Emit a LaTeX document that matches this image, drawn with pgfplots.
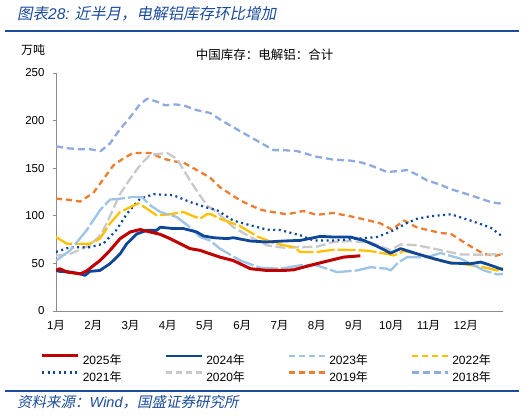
\documentclass[border=0pt]{standalone}
\usepackage{pgfplots}
\pgfplotsset{compat=1.18}
\usepackage{fontspec}
\setmainfont{Liberation Sans}
\newfontfamily\cjk{Noto Sans CJK SC}
\newfontfamily\cjkit[FakeSlant=0.2]{Noto Sans CJK SC}
\definecolor{titleblue}{HTML}{1A4B9B}
\definecolor{rulecol}{HTML}{1E4C9C}
\definecolor{axisgray}{HTML}{8C8C8C}
\definecolor{c25}{HTML}{C00000}
\definecolor{c24}{HTML}{0E4698}
\definecolor{c23}{HTML}{9DC3E6}
\definecolor{c22}{HTML}{FFC000}
\definecolor{c21}{HTML}{0E4698}
\definecolor{c20}{HTML}{C9C9C9}
\definecolor{c19}{HTML}{ED7D31}
\definecolor{c18}{HTML}{8FAADC}
\begin{document}
\begin{tikzpicture}
\useasboundingbox (0pt,0pt) rectangle (526pt,415pt);
\node[anchor=west, inner sep=0pt, text=titleblue] at (17pt,401pt) {\fontsize{15.5}{18}\selectfont{\cjkit 图表}{\itshape 28:}\hspace{5pt}{\cjkit 近半月，电解铝库存环比增加}};
\draw[rulecol, line width=2.2pt] (5pt,384pt) -- (519pt,384pt);
\draw[rulecol, line width=2pt] (5pt,24.5pt) -- (519pt,24.5pt);
\node[anchor=west, inner sep=0pt, text=titleblue] at (17pt,13pt) {\fontsize{14.5}{16}\selectfont{\cjkit 资料来源：}{\itshape Wind}{\cjkit ，国盛证券研究所}};
\node[anchor=west, inner sep=0pt] at (21pt,365pt) {\fontsize{12}{14}\selectfont\cjk 万吨};
\node[inner sep=0pt] at (264.5pt,360.5pt) {\fontsize{12.5}{14}\selectfont\cjk 中国库存：电解铝：合计};
\begin{axis}[
 at={(56pt,104pt)}, anchor=south west,
 width=447pt, height=238pt, scale only axis,
 xmin=1, xmax=13, ymin=0, ymax=250,
 axis x line*=bottom, axis y line*=left,
 axis line style={draw=axisgray, line width=0.9pt, -},
 every inner x axis line/.append style={-},
 every inner y axis line/.append style={-},
 every outer x axis line/.append style={-},
 every outer y axis line/.append style={-},
 xtick={1,...,12},
 xticklabels={1{\cjk 月},2{\cjk 月},3{\cjk 月},4{\cjk 月},5{\cjk 月},6{\cjk 月},7{\cjk 月},8{\cjk 月},9{\cjk 月},10{\cjk 月},11{\cjk 月},12{\cjk 月}},
 ytick={0,50,...,250},
 x tick style={draw=none},
 y tick style={draw=axisgray, line width=0.7pt},
 major tick length=3pt,
 tick align=outside,
 tick label style={font=\fontsize{11.5}{13}\selectfont, text=black},
 /pgf/number format/assume math mode=true,
 yticklabel style={xshift=-5pt},
 xticklabel style={yshift=-3pt},
 legend columns=4,
 reverse legend,
 legend cell align=left,
 legend image code/.code={\draw[#1, line cap=butt] (0pt,4.2pt) -- (36pt,4.2pt);},
 legend style={draw=none, fill=none, inner sep=0pt, outer sep=0pt,
   at={(-0.034,-0.2415)}, anchor=west,
   font=\fontsize{12}{14}\selectfont, row sep=5pt,
   nodes={inner sep=0pt},
   /tikz/every odd column/.append style={column sep=3pt},
   /tikz/every even column/.append style={column sep=43pt}},
]
\addplot[c18, line width=2.3pt, line join=round, dash pattern=on 7pt off 4pt] coordinates {
(1,173)(1.3,171)(1.6,170)(1.9,170)(2.2,168)(2.45,176)(2.7,190)(3.0,204)(3.25,217)(3.45,223)(3.7,220)(3.93,216)(4.2,217)(4.42,216)(4.78,211)(5.14,208)(5.45,200)(5.76,193)(6.3,181)(6.84,169)(7.1,169)(7.47,168)(8.0,162)(8.45,159)(8.9,158)(9.2,156)(9.44,153)(9.89,146)(10.2,147)(10.43,148)(10.7,143)(10.97,137)(11.3,133)(11.6,128)(12.13,121.6)(12.4,118)(12.67,114.5)(12.9,113)(13,114)};
\addlegendentry{2018{\cjk 年}}
\addplot[c19, line width=2.3pt, line join=round, dash pattern=on 6pt off 4pt] coordinates {
(1,118)(1.3,117)(1.65,115)(2.0,124)(2.3,140)(2.54,153)(2.8,160)(3.07,166)(3.3,166)(3.53,166)(3.88,160)(4.2,157)(4.42,156)(4.78,148)(5.14,140)(5.4,130)(5.95,116)(6.48,106.5)(6.8,104)(7.2,101.6)(7.64,105)(8.0,101)(8.45,103)(8.9,99.5)(9.3,96)(9.71,92)(10.02,85.5)(10.34,95)(10.7,87.6)(11.32,82)(11.6,81)(12.04,70)(12.48,60)(12.8,58)(13,60)};
\addlegendentry{2019{\cjk 年}}
\addplot[c20, line width=2.3pt, line join=round, dash pattern=on 10pt off 3.5pt, legend image post style={dash pattern=on 6pt off 4pt}] coordinates {
(1,58)(1.38,60)(1.91,69)(2.2,80)(2.36,92)(2.72,123)(3.08,144)(3.3,155)(3.53,164)(3.98,166)(4.24,160)(4.6,137)(4.87,121)(5.05,111)(5.32,104)(5.76,88)(6.22,77.7)(6.66,69)(7.11,66.5)(7.56,67)(8.0,67.6)(8.45,72.5)(8.9,73.5)(9.44,72)(9.98,64)(10.25,70)(10.7,69)(11.32,64)(11.86,59.5)(12.48,59)(13,60)};
\addlegendentry{2020{\cjk 年}}
\addplot[c21, line width=2.2pt, line join=round, dash pattern=on 2pt off 3.5pt] coordinates {
(1,62)(1.38,67)(1.91,67)(2.27,70.7)(2.62,85)(2.9,102)(3.26,118)(3.62,122.6)(4.15,121.6)(4.6,114.5)(5.05,108.6)(5.32,106)(5.76,95)(6.22,90)(6.66,85.5)(7.02,85)(7.56,79.5)(7.92,74)(8.45,74)(9.08,76)(9.62,77.7)(10.06,84.7)(10.4,92)(10.7,97)(11.05,99.5)(11.6,101.6)(12.13,95)(12.67,87.6)(13,77.7)};
\addlegendentry{2021{\cjk 年}}
\addplot[c22, line width=2.3pt, line join=round, dash pattern=on 18pt off 3pt, legend image post style={dash pattern=on 6pt off 4pt}] coordinates {
(1,77.7)(1.29,70.7)(1.91,70.7)(2.18,76)(2.45,92)(2.72,104)(2.99,109)(3.21,113)(3.44,107.6)(3.7,100.5)(4.06,101.6)(4.42,104)(4.69,99.5)(4.87,97)(5.05,101.6)(5.14,102)(5.4,97)(5.95,89)(6.4,78.4)(6.84,71.4)(7.38,67)(7.56,62)(8.0,62)(8.45,64.4)(9.08,64)(9.44,63)(9.89,60)(10.07,58.4)(10.34,63)(10.7,60)(11.32,52.4)(11.86,49.7)(12.48,46)(12.85,42.6)(13,45)};
\addlegendentry{2022{\cjk 年}}
\addplot[c23, line width=2.3pt, line join=round, dash pattern=on 22pt off 3pt, legend image post style={dash pattern=on 6pt off 4pt}] coordinates {
(1,53)(1.38,63.7)(1.82,84.7)(2.18,105.8)(2.45,117)(2.72,118)(3.08,119.8)(3.3,119.8)(3.53,111)(3.8,104)(4.24,98.7)(4.6,88)(4.87,77.7)(5.14,74)(5.4,65.5)(5.95,53)(6.48,45.4)(7.02,44.4)(7.56,48)(8.0,48)(8.55,40.8)(9.08,42.6)(9.44,46)(9.89,44.4)(9.98,42.6)(10.2,51.4)(10.43,56.6)(10.97,56.6)(11.32,60.8)(11.86,55)(12.49,42.6)(12.85,38.4)(13,39)};
\addlegendentry{2023{\cjk 年}}
\addplot[c24, line width=2.8pt, line join=round] coordinates {
(1,42.6)(1.1,41.6)(1.38,41)(1.65,39)(1.78,37.4)(1.91,41.6)(2.18,42.6)(2.45,49.7)(2.72,60)(2.9,70.7)(3.17,81)(3.44,84.7)(3.7,84.7)(3.8,88)(4.15,86.6)(4.42,86.6)(4.78,83)(4.96,78.8)(5.23,77)(5.59,76)(5.76,77)(6.22,73.5)(6.66,72.5)(7.11,73.5)(7.56,74.2)(8.1,78.4)(8.45,77.7)(8.9,77.7)(9.26,74.2)(9.62,68)(9.98,60.8)(10.25,65.5)(10.7,60)(11.14,55)(11.6,50.3)(12.13,49.7)(12.4,51.4)(12.67,48)(13,43.4)};
\addlegendentry{2024{\cjk 年}}
\addplot[c25, line width=3pt, line join=round] coordinates {
(1,42.6)(1.1,44.4)(1.29,41)(1.65,39)(1.82,42)(2.18,53)(2.45,63.7)(2.72,76)(2.99,83)(3.26,85.6)(3.53,83)(3.8,80.5)(4.06,76)(4.33,70.7)(4.6,65.5)(4.87,63.7)(5.14,60)(5.4,56.6)(5.76,53)(6.22,44.4)(6.66,42.6)(7.11,42.6)(7.38,43.3)(7.83,48)(8.28,52.4)(8.72,56.6)(9.17,58)};
\addlegendentry{2025{\cjk 年}}
\end{axis}
\end{tikzpicture}
\end{document}
